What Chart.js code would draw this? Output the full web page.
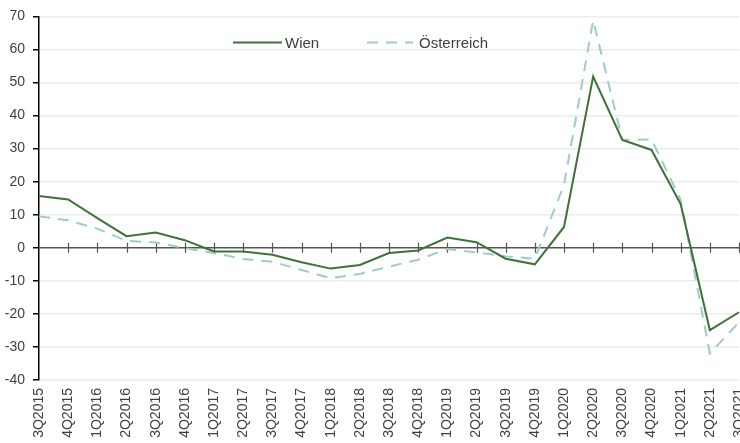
<!DOCTYPE html>
<html>
<head>
<meta charset="utf-8">
<script src="https://cdn.jsdelivr.net/npm/chart.js@4/dist/chart.umd.min.js"></script>
<style>
  html, body { margin: 0; padding: 0; background: #fff; overflow: hidden; }
  #wrap { width: 740px; height: 443px; position: relative; }
</style>
</head>
<body>
<div id="wrap"><canvas id="c" width="740" height="443"></canvas></div>
<script>
const categories = ["3Q2015","4Q2015","1Q2016","2Q2016","3Q2016","4Q2016","1Q2017","2Q2017","3Q2017","4Q2017",
  "1Q2018","2Q2018","3Q2018","4Q2018","1Q2019","2Q2019","3Q2019","4Q2019","1Q2020","2Q2020",
  "3Q2020","4Q2020","1Q2021","2Q2021","3Q2021"];
const wien = [15.7, 14.6, 9.0, 3.5, 4.6, 2.3, -1.1, -1.1, -2.1, -4.4,
  -6.3, -5.2, -1.6, -0.8, 3.1, 1.7, -3.3, -5.0, 6.3, 51.8,
  32.6, 29.6, 13.2, -24.9, -19.5];
const oesterreich = [9.5, 8.3, 5.8, 2.1, 1.6, -0.1, -1.6, -3.4, -4.2, -6.7,
  -9.2, -7.9, -5.7, -3.6, -0.4, -1.4, -2.6, -3.3, 19.0, 68.8,
  32.6, 32.8, 14.5, -32.0, -22.5];
const seriesNames = ["Wien", "Österreich"];
const yTicks = [70, 60, 50, 40, 30, 20, 10, 0, -10, -20, -30, -40];

const FONT = "'Liberation Sans', Arial, sans-serif";
const TEXT = "#404040";

const zeroLinePlugin = {
  id: 'zeroLine',
  beforeDatasetsDraw(chart) {
    const { ctx, chartArea, scales } = chart;
    const y0 = scales.y.getPixelForValue(0);
    ctx.save();
    ctx.strokeStyle = '#555555';
    ctx.lineWidth = 1.5;
    ctx.beginPath();
    ctx.moveTo(chartArea.left, y0);
    ctx.lineTo(chartArea.right + 2, y0);
    ctx.stroke();
    ctx.lineWidth = 1.2;
    for (let i = 1; i < categories.length; i++) {
      const x = Math.round(scales.x.getPixelForValue(i)) + 0.5;
      ctx.beginPath();
      ctx.moveTo(x, y0 - 5);
      ctx.lineTo(x, y0 + 5);
      ctx.stroke();
    }
    ctx.restore();
  }
};

const legendPlugin = {
  id: 'inLegend',
  afterDraw(chart) {
    const { ctx } = chart;
    const items = [
      { x1: 233, x2: 282, tx: 285 },
      { x1: 367, x2: 413, tx: 419 }
    ];
    const y = 42.5;
    ctx.save();
    chart.data.datasets.forEach((ds, i) => {
      const it = items[i];
      ctx.strokeStyle = ds.borderColor;
      ctx.lineWidth = ds.borderWidth;
      ctx.setLineDash(ds.borderDash || []);
      ctx.beginPath();
      ctx.moveTo(it.x1, y);
      ctx.lineTo(it.x2, y);
      ctx.stroke();
      ctx.setLineDash([]);
      ctx.fillStyle = TEXT;
      ctx.font = "15px " + FONT;
      ctx.textBaseline = 'middle';
      ctx.textAlign = 'left';
      ctx.fillText(ds.label, it.tx, y + 1);
    });
    ctx.restore();
  }
};

new Chart(document.getElementById('c'), {
  type: 'line',
  data: {
    labels: categories,
    datasets: [
      { label: seriesNames[0], data: wien, borderColor: '#3e7239', borderWidth: 2, pointRadius: 0, tension: 0, fill: false },
      { label: seriesNames[1], data: oesterreich, borderColor: '#9dcfc1', borderWidth: 2, borderDash: [11, 8], pointRadius: 0, tension: 0, fill: false }
    ]
  },
  options: {
    responsive: false,
    animation: false,
    layout: { padding: { left: 0, right: 1, top: 12, bottom: 0 } },
    plugins: { legend: { display: false }, tooltip: { enabled: false } },
    scales: {
      x: {
        grid: { display: false, drawTicks: false },
        border: { display: false },
        ticks: { color: TEXT, font: { family: FONT, size: 14 }, minRotation: 90, maxRotation: 90, padding: 8, autoSkip: false },
        afterFit(scale) { scale.paddingRight = 0; scale.paddingLeft = 0; scale.height = 63; }
      },
      y: {
        min: -40, max: 70,
        afterBuildTicks(scale) { scale.ticks = yTicks.map(v => ({ value: v })); },
        afterFit(scale) { scale.width = 39; },
        grid: {
          color: (c) => c.tick && c.tick.value === 0 ? 'rgba(0,0,0,0)' : '#ececec',
          lineWidth: 1.5,
          tickColor: '#000000',
          tickLength: 6
        },
        border: { display: true, color: '#000000', width: 1.5 },
        ticks: { color: TEXT, font: { family: FONT, size: 14 }, padding: 8 }
      }
    }
  },
  plugins: [zeroLinePlugin, legendPlugin]
});
</script>
</body>
</html>
